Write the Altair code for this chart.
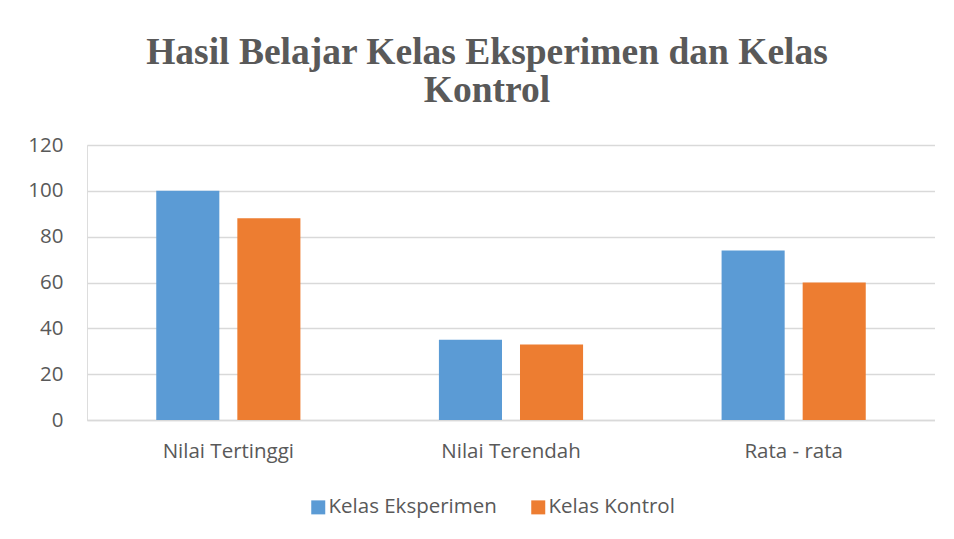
import altair as alt
import pandas as pd

categories = ["Nilai Tertinggi", "Nilai Terendah", "Rata - rata"]
series = ["Kelas Eksperimen", "Kelas Kontrol"]
eksperimen = [100, 35, 74]
kontrol = [88, 33, 60]
y_ticks = [0, 20, 40, 60, 80, 100, 120]
colors = ["#5b9bd5", "#ed7d31"]

rows = []
for c, v in zip(categories, eksperimen):
    rows.append({"Kategori": c, "Kelas": series[0], "Nilai": v})
for c, v in zip(categories, kontrol):
    rows.append({"Kategori": c, "Kelas": series[1], "Nilai": v})
df = pd.DataFrame(rows)

TEXT = "#595959"
FONT = "Open Sans"
FS = 20.5

chart = alt.Chart(df).mark_bar().encode(
    x=alt.X("Kategori:N", sort=categories, title=None,
            scale=alt.Scale(paddingInner=0.49, paddingOuter=0.245),
            axis=alt.Axis(labelAngle=0, labelFontSize=FS, labelColor=TEXT, labelFont=FONT,
                          labelPadding=21, ticks=False, domain=True, domainColor="#d9d9d9",
                          domainWidth=1.3, grid=False)),
    xOffset=alt.XOffset("Kelas:N", sort=series,
                        scale=alt.Scale(paddingInner=0.222, paddingOuter=0)),
    y=alt.Y("Nilai:Q", title=None,
            scale=alt.Scale(domain=[0, 120], nice=False),
            axis=alt.Axis(values=y_ticks, labelFontSize=FS, labelColor=TEXT, labelFont=FONT,
                          labelPadding=24, ticks=False, domain=False, grid=True,
                          gridColor="#d9d9d9", gridWidth=1.3)),
    color=alt.Color("Kelas:N", sort=series, title=None,
                    scale=alt.Scale(domain=series, range=colors),
                    legend=alt.Legend(orient="none", legendX=221, legendY=352,
                                      direction="horizontal", symbolType="square",
                                      symbolSize=196, symbolStrokeWidth=0,
                                      labelFontSize=FS, labelColor=TEXT, labelFont=FONT,
                                      labelLimit=400,
                                      columnPadding=31, labelOffset=0, padding=0, offset=0)),
).properties(
    width=848,
    height=275,
    padding={"left": 79, "top": 137, "right": 0, "bottom": 100},
    autosize=alt.AutoSizeParams(type="none"),
    title=alt.TitleParams(["Hasil Belajar Kelas Eksperimen dan Kelas", "Kontrol"],
                          font="Liberation Serif", fontSize=37.5, fontWeight="bold",
                          color=TEXT, anchor="middle", dx=-24, offset=26, lineHeight=38),
).configure_view(strokeWidth=0).configure(background="white")

chart.save("out.html", embed_options={"renderer": "svg", "actions": False})
